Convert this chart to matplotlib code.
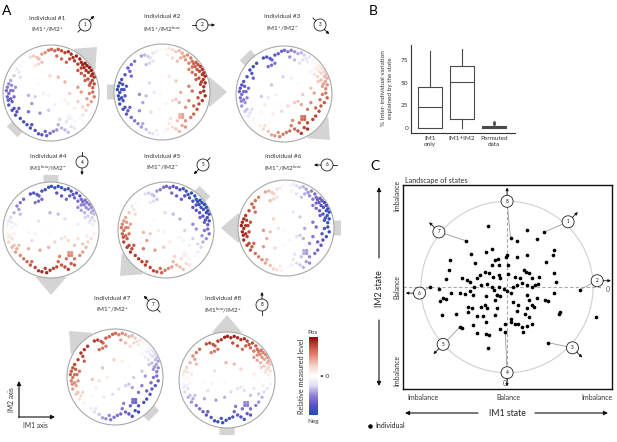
import numpy as np
import matplotlib
matplotlib.use('Agg')
import matplotlib.pyplot as plt
from matplotlib.patches import Circle, FancyArrow
from matplotlib.colors import LinearSegmentedColormap, Normalize
import matplotlib.cm as cm

plt.rcParams['font.family'] = ['Lato', 'DejaVu Sans']
plt.rcParams['mathtext.fontset'] = 'custom'
plt.rcParams['mathtext.rm'] = 'Lato'
plt.rcParams['mathtext.it'] = 'Lato:italic'
plt.rcParams['mathtext.bf'] = 'Lato:bold'

# ------------------------------------------------------------------ data
ind_titles = ['Individual #1', 'Individual #2', 'Individual #3', 'Individual #4',
              'Individual #5', 'Individual #6', 'Individual #7', 'Individual #8']
ind_states = [r'IM1$^{+}$/IM2$^{+}$', r'IM1$^{+}$/IM2$^{\mathrm{low}}$',
              r'IM1$^{+}$/IM2$^{-}$', r'IM1$^{\mathrm{low}}$/IM2$^{-}$',
              r'IM1$^{-}$/IM2$^{-}$', r'IM1$^{-}$/IM2$^{\mathrm{low}}$',
              r'IM1$^{-}$/IM2$^{+}$', r'IM1$^{\mathrm{low}}$/IM2$^{+}$']
state_dir = [45, 0, -45, -90, -135, 180, 135, 90]   # direction of each individual's state (deg)

# shared feature map (IM1, IM2 loadings, ring radius = 100)
feat_u = [-43, -36, -29, -25, -19, -12, -5, 1, 8, 15, 22, 29, 36, 42, 46, 53, 60, 63, 66, 71,
          75, 80, 84, 87, 90, 86, 90, 82, 77, 70, 73, 63, 56, 32, 22, 12, -19, -26, -33,
          -57, -64, -71, -67, -77, -84, -88, -91, -93, -88, -91, -84, -81, -88, -77, -71, -74, -64,
          -57, -50, -43, -33, -26, -19, -9, -2, 5, 12, 22, 29, 36, 42, 49, 60, 66, 73, 77, 84, 90,
          87, 80, 75, 66,
          -2, 15, -26, -16, -5, 8, 22, 29, 36, 39, -40, -47, -23, -5, 18, 32, 49, 56, -33, -47,
          -64, 29, 56, 63, 37, 43, 37, 43,
          69, 78, 84, 80, 87, 71, 63, 56, 49, 39, -82, -79, -84, -89, -77, -74, -81, -67,
          -40, -12, 15, 49]
feat_v = [75, 77, 74, 71, 81, 84, 89, 91, 88, 91, 88, 84, 86, 81, 74, 77, 71, 64, 59, 62,
          57, 53, 47, 40, 33, 26, 19, 21, 29, 36, 47, 52, 60, 64, 71, 77, 64, 60, 57,
          64, 57, 50, 43, 36, 26, 19, 12, 5, -1, -8, -12, -18, -25, -32, -39, -46, -53,
          -60, -66, -73, -78, -85, -87, -89, -84, -80, -77, -73, -77, -82, -70, -60, -53, -46, -36,
          -25, -18, -8, 2, -1, -12, -29,
          36, 33, 19, -1, -5, -25, -18, -15, -22, -1, -22, -39, -42, -36, -55, -60, -32, -18, -8, -5,
          33, 23, 12, 2, -47, -47, -53, -53,
          53, 43, 36, 16, 11, 26, 41, 47, 67, 71, 16, 5, 5, -15, -8, 12, -36, -32,
          -66, -80, -66, -73]

# panel B: % inter-individual variation explained
box_labels = ['IM1\nonly', 'IM1+IM2', 'Permuted\ndata']
box_med = [23, 51, 1.2]
box_q1 = [0, 10, 0.3]
box_q3 = [45, 69, 2.2]
box_lo = [0, 0, 0]
box_hi = [85, 88, 3.2]
box_fliers = [[], [], [4.5, 5.5, 6.5]]

# panel C: landscape of states (individuals)
ind_x = [-22, 23, 43, -48, 4, 11, 35, 54, 53, -42, -25, -18, -66, -37, -14, -10, -1, 0, 12, 23,
         45, -17, -9, 1, -68, -52, -47, -43, -35, -32, -26, -21, -16, -9, -8, 1, 9, 15, 20, 22,
         25, 29, 37, 54, 57, -71, -90, -79, -39, -30, -23, -18, -15, -9, -4, 7, 12, 17, 23, 29,
         33, 36, 85, -12, 5,
         -65, -55, -49, -78, -75, -71, -43, -40, -24, -14, -12, -8, 0, 7, 13, 23, 25, 29, 31, 35,
         44, 48, 54, -45, -41, -30, -26, -23, -12, 11, 23, 21, 25, -76, -59, -45, -35, -28, -25, -14,
         -2, 4, 9, 13, 17, 19, 23, 29, 60, 61, 103, -55, -52, -40, -35, -24, -21, -8, -2, -22,
         48, 4]
ind_y = [71, 66, 64, 54, 57, 54, 56, 43, 37, 38, 41, 44, 32, 28, 32, 33, 35, 37, 35, 37,
         29, 26, 26, 26, 20, 11, 8, 6, 11, 14, 18, 16, 12, 14, 10, 15, 12, 10, 20, 18,
         16, 10, 12, 16, 6, 9, 0, -2, 0, 2, 4, 0, -4, 0, -2, 0, 2, 5, 2, 0,
         2, 4, -3, -9, -7,
         -7, -7, -8, -16, -13, -14, -5, -9, -11, -15, -9, -11, -5, -17, -21, -9, -15, -21, -23, -13,
         -15, -16, -7, -23, -24, -23, -21, -25, -25, -28, -25, -31, -35, -33, -31, -29, -34, -34, -41, -33,
         -43, -41, -43, -43, -47, -52, -46, -43, -31, -29, -35, -47, -48, -44, -54, -55, -56, -49, -53, -71,
         -65, -37]
c_num = [1, 2, 3, 4, 5, 6, 7, 8]
c_ang = [47, 4, 317, 270, 222, 184, 141, 90]
c_rad = [104, 105, 104, 100, 100, 102, 102, 100]
link_x = [43, 85, 48, -2, -55, -90, -48, 4]
link_y = [64, -3, -65, -53, -47, 0, 54, 57]

# ------------------------------------------------------------------ layout
W, H = 617, 442
fig = plt.figure(figsize=(W / 100, H / 100), dpi=100)
fig.patch.set_facecolor('white')

def fx(px):
    return px / W

def fy(py):
    return 1 - py / H

cmap = LinearSegmentedColormap.from_list('lvl', ['#1d4fae', '#5a52c2', '#8e84d4', '#e0dcf2', '#ffffff',
                                                 '#f5d6cc', '#e0927e', '#c4523d', '#8a0b0b'])
norm = Normalize(-1.0, 1.0)

centers = [(51, 93), (162, 92), (284, 94), (51, 230), (166, 230), (286, 228), (115, 377), (227, 380)]
R = 48
fu = np.array(feat_u) / 100.0
fv = np.array(feat_v) / 100.0
for k, (cx, cy) in enumerate(centers):
    ax = fig.add_axes([fx(cx - R), fy(cy + R), 2 * R / W, 2 * R / H])
    ax.set_xlim(-1, 1)
    ax.set_ylim(-1, 1)
    ax.axis('off')
    th = np.deg2rad(state_dir[k])
    d = np.array([np.cos(th), np.sin(th)])
    t0 = -(1 + 7 / R) * d
    t1 = (1 + 17 / R) * d
    ax.add_patch(FancyArrow(t0[0], t0[1], t1[0] - t0[0], t1[1] - t0[1], width=15 / R,
                            head_width=31 / R, head_length=18 / R, length_includes_head=True,
                            color='#d4d4d4', lw=0, clip_on=False, zorder=0))
    ax.add_patch(Circle((0, 0), 1, fc='white', ec='#a8a8a8', lw=0.8, zorder=1, clip_on=False))
    level = fu * d[0] + fv * d[1]
    order = np.argsort(np.abs(level))
    ax.scatter(fu[order], fv[order], c=level[order], cmap=cmap, norm=norm, s=6, lw=0,
               zorder=2, clip_on=False)

# colour bar
cax = fig.add_axes([fx(309), fy(415), 9 / W, 78 / H])
cb = fig.colorbar(cm.ScalarMappable(norm=norm, cmap=cmap), cax=cax)
cb.outline.set_visible(False)
cb.set_ticks([])

# ------------------------------------------------------------------ panel B
axB = fig.add_axes([fx(411), fy(133), 104 / W, 88 / H])
stats = []
for i in range(3):
    stats.append(dict(med=box_med[i], q1=box_q1[i], q3=box_q3[i], whislo=box_lo[i],
                      whishi=box_hi[i], fliers=box_fliers[i]))
lc = '#4a4a4a'
axB.bxp(stats, positions=[1, 2, 3], widths=0.75, showcaps=False,
        boxprops=dict(color=lc, lw=0.8), medianprops=dict(color=lc, lw=0.8),
        whiskerprops=dict(color=lc, lw=0.8),
        flierprops=dict(marker='o', ms=0.9, mfc=lc, mec=lc))
axB.set_xlim(0.41, 3.66)
axB.set_ylim(-5.6, 92)
for s in ['top', 'right']:
    axB.spines[s].set_visible(False)
for s in ['left', 'bottom']:
    axB.spines[s].set_color('#333333')
    axB.spines[s].set_linewidth(0.8)
axB.set_yticks([0, 25, 50, 75])
axB.set_xticks([1, 2, 3])
axB.set_xticklabels(box_labels, fontsize=4.6, color='#333333', linespacing=1.2)
axB.tick_params(axis='y', labelsize=4.6, labelcolor='#333333', length=0, pad=2)
axB.tick_params(axis='x', length=0, pad=2)

# ------------------------------------------------------------------ panel C
axC = fig.add_axes([fx(403), fy(389), 209 / W, 204 / H])
axC.set_xlim(-121, 122)
axC.set_ylim(-119, 119)
axC.set_xticks([])
axC.set_yticks([])
for s in axC.spines.values():
    s.set_linewidth(1.0)
    s.set_color('#111111')
axC.add_patch(Circle((0, 0), 100, fill=False, ec='#d0d0d0', lw=0.8, zorder=1))
axC.plot([-121, 112], [0, 0], ls=(0, (3, 2)), color='#a8a8a8', lw=0.8, zorder=1)
axC.plot([0, 0], [-110, 117], ls=(0, (3, 2)), color='#a8a8a8', lw=0.8, zorder=1)
axC.scatter(ind_x, ind_y, s=7, c='black', lw=0, zorder=3)
axC.text(117, -3, '0', fontsize=5, color='#555555', ha='center', va='center')
axC.text(-3, -113, '0', fontsize=5, color='#555555', ha='center', va='center')
for k in range(8):
    a = np.deg2rad(c_ang[k])
    px_, py_ = c_rad[k] * np.cos(a), c_rad[k] * np.sin(a)
    axC.plot([link_x[k], px_], [link_y[k], py_], color='#9a9a9a', lw=0.6, zorder=2)
    axC.add_patch(Circle((px_, py_), 7, fc='white', ec='#222222', lw=0.6, zorder=4))
    axC.text(px_, py_, str(c_num[k]), fontsize=3.3, ha='center', va='center', zorder=5)
    dd = np.deg2rad(state_dir[k])
    axC.annotate('', xy=(px_ + 16 * np.cos(dd), py_ + 16 * np.sin(dd)),
                 xytext=(px_ + 7 * np.cos(dd), py_ + 7 * np.sin(dd)),
                 arrowprops=dict(arrowstyle='-|>', color='#111111', lw=0.6,
                                 mutation_scale=4, shrinkA=0, shrinkB=0), zorder=5)

# ------------------------------------------------------------------ overlay texts
ov = fig.add_axes([0, 0, 1, 1], facecolor='none')
ov.set_xlim(0, W)
ov.set_ylim(H, 0)
ov.axis('off')
ov.text(7, 11, 'A', fontsize=10, ha='center', va='center')
ov.text(373, 11, 'B', fontsize=10, ha='center', va='center')
ov.text(375, 166, 'C', fontsize=10, ha='center', va='center')

title_xy = [(47, 18), (162, 17), (282, 17), (48, 156), (162, 156), (283, 156), (112, 298), (223, 298)]
icon_xy = [(85, 25), (202, 25), (320, 25), (82, 162), (203, 165), (327, 165), (153, 305), (262, 305)]
for k in range(8):
    tx, ty = title_xy[k]
    ov.text(tx, ty, ind_titles[k], fontsize=4.6, color='#333333', ha='center', va='center')
    ov.text(tx, ty + 12, ind_states[k], fontsize=4.6, color='#333333', ha='center', va='center')
    ix, iy = icon_xy[k]
    ov.add_patch(Circle((ix, iy), 6, fc='white', ec='#222222', lw=0.6))
    ov.text(ix, iy, str(k + 1), fontsize=3.3, ha='center', va='center')
    dd = np.deg2rad(state_dir[k])
    ux, uy = np.cos(dd), -np.sin(dd)
    ov.annotate('', xy=(ix + 13 * ux, iy + 13 * uy), xytext=(ix + 6 * ux, iy + 6 * uy),
                arrowprops=dict(arrowstyle='-|>', color='#111111', lw=0.6, mutation_scale=4,
                                shrinkA=0, shrinkB=0))
    ov.plot([ix - 6 * ux, ix - 10 * ux], [iy - 6 * uy, iy - 10 * uy], color='#111111', lw=0.6)

# colour bar labels
ov.text(313, 332, 'Pos', fontsize=4.6, color='#333333', ha='center', va='center')
ov.text(313, 421, 'Neg', fontsize=4.6, color='#333333', ha='center', va='center')
ov.text(320, 376, '• 0', fontsize=4.6, color='#333333', ha='left', va='center')
ov.text(302, 376, 'Relative measured level', fontsize=5.2, color='#333333', rotation=90,
        ha='center', va='center')

# IM axis inset
arr = dict(arrowstyle='-|>', color='#111111', lw=0.8, mutation_scale=6, shrinkA=0, shrinkB=0)
ov.annotate('', xy=(19, 381), xytext=(19, 417.4), arrowprops=arr)
ov.annotate('', xy=(55, 417), xytext=(18.6, 417), arrowprops=arr)
ov.text(11, 400, 'IM2 axis', fontsize=4.8, color='#333333', rotation=90, ha='center', va='center')
ov.text(35, 426, 'IM1 axis', fontsize=4.8, color='#333333', ha='center', va='center')

# panel B y label
ov.text(387, 88, '% Inter-individual variation\nexplained by the state', fontsize=4.6,
        color='#333333', rotation=90, ha='center', va='center', linespacing=1.3)

# panel C surroundings
ov.text(405, 180, 'Landscape of states', fontsize=5.2, color='#333333', ha='left', va='center')
ov.text(423, 397, 'Imbalance', fontsize=5, color='#333333', ha='center', va='center')
ov.text(508, 397, 'Balance', fontsize=5, color='#333333', ha='center', va='center')
ov.text(597, 397, 'Imbalance', fontsize=5, color='#333333', ha='center', va='center')
ov.text(507, 413, 'IM1 state', fontsize=6.3, color='#222222', ha='center', va='center')
ov.annotate('', xy=(405, 413), xytext=(478, 413), arrowprops=arr)
ov.annotate('', xy=(608, 413), xytext=(535, 413), arrowprops=arr)
ov.text(380, 289, 'IM2 state', fontsize=6.3, color='#222222', rotation=90, ha='center', va='center')
ov.annotate('', xy=(379, 187), xytext=(379, 258), arrowprops=arr)
ov.annotate('', xy=(379, 386), xytext=(379, 320), arrowprops=arr)
ov.text(397, 195, 'Imbalance', fontsize=5, color='#333333', rotation=90, ha='center', va='center')
ov.text(397, 287, 'Balance', fontsize=5, color='#333333', rotation=90, ha='center', va='center')
ov.text(397, 370, 'Imbalance', fontsize=5, color='#333333', rotation=90, ha='center', va='center')
ov.plot([370], [426], marker='o', ms=2.2, color='black')
ov.text(375, 426, 'Individual', fontsize=5, color='#222222', ha='left', va='center')

fig.savefig('out.png', dpi=100, facecolor='white')
